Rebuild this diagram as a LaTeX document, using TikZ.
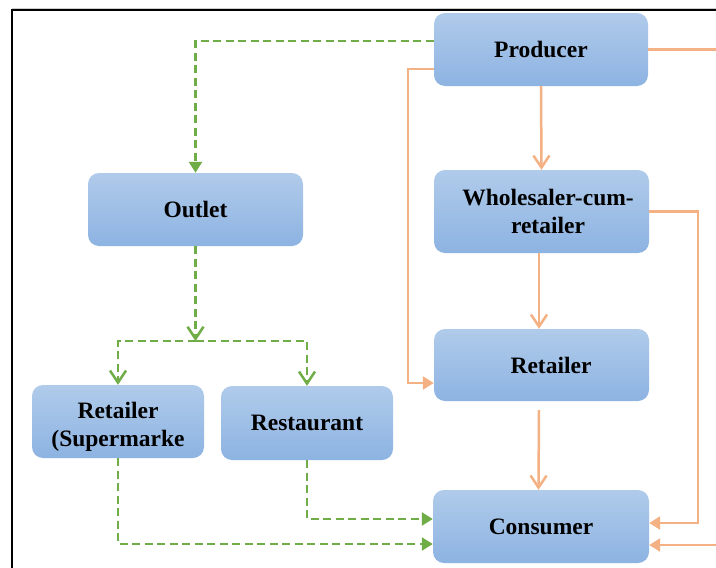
\documentclass[tikz,border=0pt]{standalone}
\usepackage{fontspec}
\setmainfont{Liberation Serif}
\usetikzlibrary{arrows.meta}
\definecolor{grn}{HTML}{70AD47}
\definecolor{org}{HTML}{F4B183}
\definecolor{boxtop}{HTML}{B0CBEA}
\definecolor{boxbot}{HTML}{8DB3E2}
\begin{document}
\begin{tikzpicture}[x=1pt,y=-1pt,
  box/.style={rounded corners=11pt, top color=boxtop, bottom color=boxbot, draw=none,
    inner sep=0pt, font=\fontsize{23.5}{28}\selectfont\bfseries, align=center},
  gline/.style={draw=grn, line width=2.5pt, dash pattern=on 8pt off 4.5pt},
  oline/.style={draw=org, line width=2.5pt},
  vtip/.style={-{Straight Barb[length=12pt,width=16pt]}},
  ftip/.style={-{Triangle[length=11pt,width=13pt]}}]
\useasboundingbox (0,0) rectangle (716,568);
\fill[white] (0,0) rectangle (716,568);
\draw[gray!40, line width=1pt] (12,8) -- (716,8);
\draw[black, line width=2.5pt] (12,568) -- (12,10) -- (716,10);

\node[box, minimum width=214pt, minimum height=73pt] (prod) at (541,49.5) {Producer};
\node[box, minimum width=215pt, minimum height=83pt] (whol) at (541.5,211.5) {\hspace*{13pt}Wholesaler-cum-\\\hspace*{13pt}retailer};
\node[box, minimum width=215pt, minimum height=72pt] (ret) at (541.5,365) {\hspace*{19pt}Retailer};
\node[box, minimum width=216pt, minimum height=73pt] (cons) at (541,526.5) {Consumer};
\node[box, minimum width=215pt, minimum height=73pt] (outlet) at (195.5,209.5) {Outlet};
\node[box, minimum width=172pt, minimum height=73pt] (rets) at (118,421.5) {\rule{0pt}{27pt}Retailer\\(Supermarke};
\node[box, minimum width=172pt, minimum height=74pt] (rest) at (307,423) {Restaurant};

% green dashed
\coordinate (j) at (195.5,341);
\draw[gline, ftip] ([yshift=8.5pt]prod.west) -| (outlet.north);
\draw[gline, vtip] (outlet.south) -- (j);
\draw[gline, vtip] (j) -| (rets.north);
\draw[gline, vtip] (j) -| (rest.north);
\draw[gline, ftip] (rets.south) |- ([yshift=-17.5pt]cons.west);
\draw[gline, ftip] (rest.south) |- ([yshift=7.5pt]cons.west);

% orange
\coordinate (pe) at (716,49.5);
\coordinate (ce) at (716,545);
\draw[oline] (prod.east) -- (pe);
\draw[oline, ftip] (ce) -- (cons.east |- ce);
\draw[oline, ftip] ([yshift=-19.5pt]prod.west) -- ++(-26,0) |- ([yshift=-18pt]ret.west);
\draw[oline, vtip] (prod.south) -- (whol.north);
\draw[oline, ftip] (whol.east) -- ++(49,0) |- ([yshift=3.5pt]cons.east);
\draw[oline, vtip] ([xshift=-2.5pt]whol.south) -- ([xshift=-2.5pt]ret.north);
\draw[oline, vtip] ([yshift=-9pt, xshift=-2.5pt]ret.south) -- ([xshift=-2.5pt]cons.north);
\end{tikzpicture}
\end{document}
